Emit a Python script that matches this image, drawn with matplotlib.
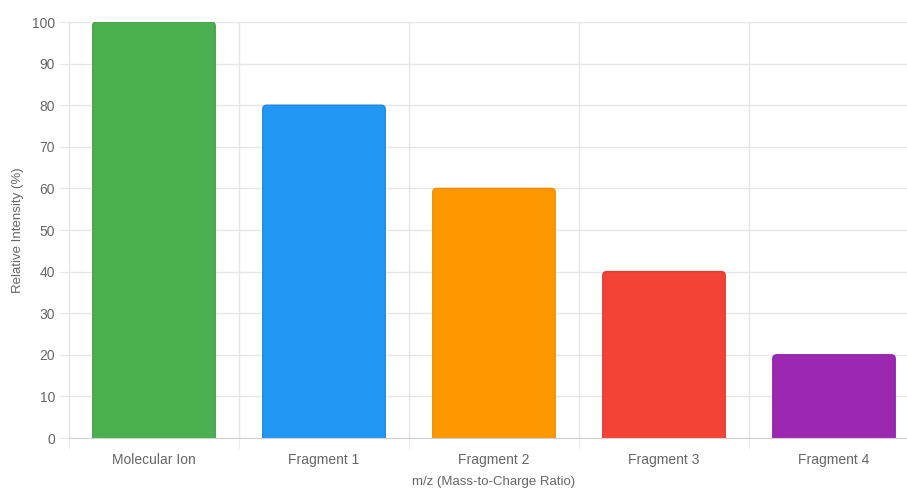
import matplotlib
matplotlib.use("Agg")
import matplotlib.pyplot as plt
from matplotlib.patches import FancyBboxPatch
import numpy as np

categories = ["Molecular Ion", "Fragment 1", "Fragment 2", "Fragment 3", "Fragment 4"]
intensity = [100, 80, 60, 40, 20]
colors = ["#4CAF50", "#2196F3", "#FF9800", "#F44336", "#9C27B0"]
edge_colors = ["#43a047", "#1e88e5", "#f08c00", "#e53935", "#8e24aa"]
yticks = [0, 10, 20, 30, 40, 50, 60, 70, 80, 90, 100]

plt.rcParams['font.family'] = ['Liberation Sans', 'DejaVu Sans']

W, H = 907, 488
fig = plt.figure(figsize=(W / 100, H / 100), dpi=100)
ax_left, ax_right, ax_top, ax_bottom = 69, 919, 22, 438
ax = fig.add_axes([ax_left / W, (H - ax_bottom) / H, (ax_right - ax_left) / W, (ax_bottom - ax_top) / H])

x = np.arange(len(categories))
bw = 0.72
bars = ax.bar(x, intensity, width=bw, color=colors)
ax.set_xlim(-0.5, len(categories) - 0.5)
ax.set_ylim(0, 100)

# convert to rounded-top bars
px_per_x = (ax_right - ax_left) / len(categories)
px_per_y = (ax_bottom - ax_top) / 100
r_px = 4
rx = r_px / px_per_x
ry = r_px / px_per_y
for rect, fc, ec in zip(bars.patches, colors, edge_colors):
    x0, w, h = rect.get_x(), rect.get_width(), rect.get_height()
    rect.set_visible(False)
    p = FancyBboxPatch((x0 + rx, -5 + ry), w - 2 * rx, h + 5 - 2 * ry,
                       boxstyle=f"round,pad={rx},rounding_size={rx}",
                       mutation_aspect=ry / rx,
                       facecolor=fc, edgecolor=ec, linewidth=1.0, clip_on=True, zorder=2)
    ax.add_patch(p)

grid_c = "#e6e6e6"
ax.set_yticks(yticks)
ax.set_xticks(x)
ax.set_xticklabels(categories)
ax.set_xticks(np.arange(-0.5, len(categories), 1), minor=True)
ax.grid(True, axis='y', color=grid_c, linewidth=1, zorder=0)
ax.grid(True, axis='x', which='minor', color=grid_c, linewidth=1, zorder=0)
ax.grid(False, axis='x', which='major')
ax.set_axisbelow(True)
ax.tick_params(axis='y', length=7, color=grid_c, labelcolor="#666666", labelsize=10, pad=3)
ax.tick_params(axis='x', which='major', length=0, labelcolor="#666666", labelsize=10, pad=11)
ax.tick_params(axis='x', which='minor', length=8, color=grid_c)
for s in ['top', 'right']:
    ax.spines[s].set_visible(False)
ax.spines['left'].set_color(grid_c)
ax.spines['bottom'].set_color("#d0d0d0")

ax.set_ylabel("Relative Intensity (%)", color="#666666", fontsize=9.5, labelpad=6)
ax.set_xlabel("m/z (Mass-to-Charge Ratio)", color="#666666", fontsize=9.5, labelpad=6)

fig.savefig("out.png", dpi=100)
